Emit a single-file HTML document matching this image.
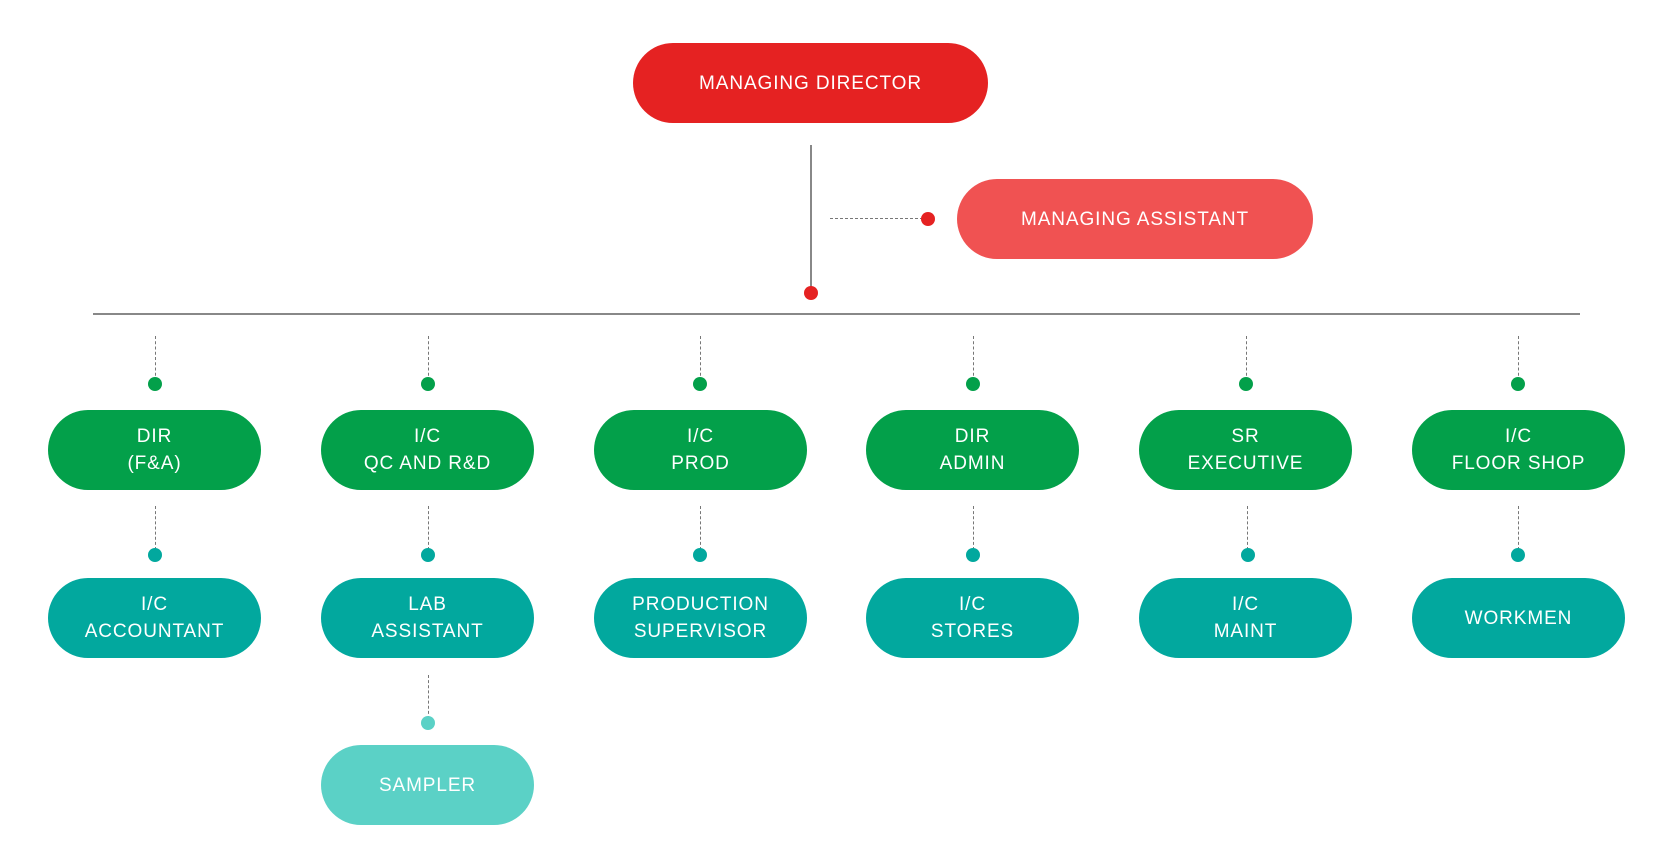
<!DOCTYPE html>
<html><head><style>
body{margin:0;width:1679px;height:849px;background:#fff;position:relative;overflow:hidden;font-family:"Liberation Sans",sans-serif}
.b{position:absolute;width:213px;height:80px;border-radius:40px;color:#fff;display:flex;align-items:center;justify-content:center;text-align:center;font-size:19px;letter-spacing:0.9px;line-height:27px}
.g{background:#03a04a}.t{background:#02a89e}.l{background:#5bd1c6}
.d{position:absolute;width:14px;height:14px;border-radius:7px}
.v{position:absolute;width:0;border-left:1.5px dashed #777}
</style></head><body>
<div class="b" style="left:633px;top:43px;width:355px;background:#e52222">MANAGING DIRECTOR</div>
<div class="b" style="left:957px;top:179px;width:356px;background:#f05252">MANAGING ASSISTANT</div>
<div style="position:absolute;left:810px;top:145px;width:2px;height:147px;background:#888"></div>
<div class="d" style="left:804px;top:286px;background:#e52222"></div>
<div style="position:absolute;left:830px;top:218px;width:93px;border-top:1.5px dashed #777"></div>
<div class="d" style="left:921px;top:212px;background:#e52222"></div>
<div style="position:absolute;left:93px;top:313px;width:1487px;height:2px;background:#888"></div>

<div class="v" style="left:155px;top:336px;height:45px"></div><div class="d g" style="left:148px;top:377px"></div>
<div class="v" style="left:428px;top:336px;height:45px"></div><div class="d g" style="left:421px;top:377px"></div>
<div class="v" style="left:700px;top:336px;height:45px"></div><div class="d g" style="left:693px;top:377px"></div>
<div class="v" style="left:973px;top:336px;height:45px"></div><div class="d g" style="left:966px;top:377px"></div>
<div class="v" style="left:1246px;top:336px;height:45px"></div><div class="d g" style="left:1239px;top:377px"></div>
<div class="v" style="left:1518px;top:336px;height:45px"></div><div class="d g" style="left:1511px;top:377px"></div>

<div class="b g" style="left:48px;top:410px">DIR<br>(F&amp;A)</div>
<div class="b g" style="left:321px;top:410px">I/C<br>QC AND R&amp;D</div>
<div class="b g" style="left:594px;top:410px">I/C<br>PROD</div>
<div class="b g" style="left:866px;top:410px">DIR<br>ADMIN</div>
<div class="b g" style="left:1139px;top:410px">SR<br>EXECUTIVE</div>
<div class="b g" style="left:1412px;top:410px">I/C<br>FLOOR SHOP</div>

<div class="v" style="left:155px;top:506px;height:44px"></div><div class="d t" style="left:148px;top:548px"></div>
<div class="v" style="left:428px;top:506px;height:44px"></div><div class="d t" style="left:421px;top:548px"></div>
<div class="v" style="left:700px;top:506px;height:44px"></div><div class="d t" style="left:693px;top:548px"></div>
<div class="v" style="left:973px;top:506px;height:44px"></div><div class="d t" style="left:966px;top:548px"></div>
<div class="v" style="left:1247px;top:506px;height:44px"></div><div class="d t" style="left:1241px;top:548px"></div>
<div class="v" style="left:1518px;top:506px;height:44px"></div><div class="d t" style="left:1511px;top:548px"></div>

<div class="b t" style="left:48px;top:578px">I/C<br>ACCOUNTANT</div>
<div class="b t" style="left:321px;top:578px">LAB<br>ASSISTANT</div>
<div class="b t" style="left:594px;top:578px">PRODUCTION<br>SUPERVISOR</div>
<div class="b t" style="left:866px;top:578px">I/C<br>STORES</div>
<div class="b t" style="left:1139px;top:578px">I/C<br>MAINT</div>
<div class="b t" style="left:1412px;top:578px">WORKMEN</div>

<div class="v" style="left:428px;top:675px;height:44px"></div><div class="d l" style="left:421px;top:716px"></div>
<div class="b l" style="left:321px;top:745px">SAMPLER</div>
</body></html>
